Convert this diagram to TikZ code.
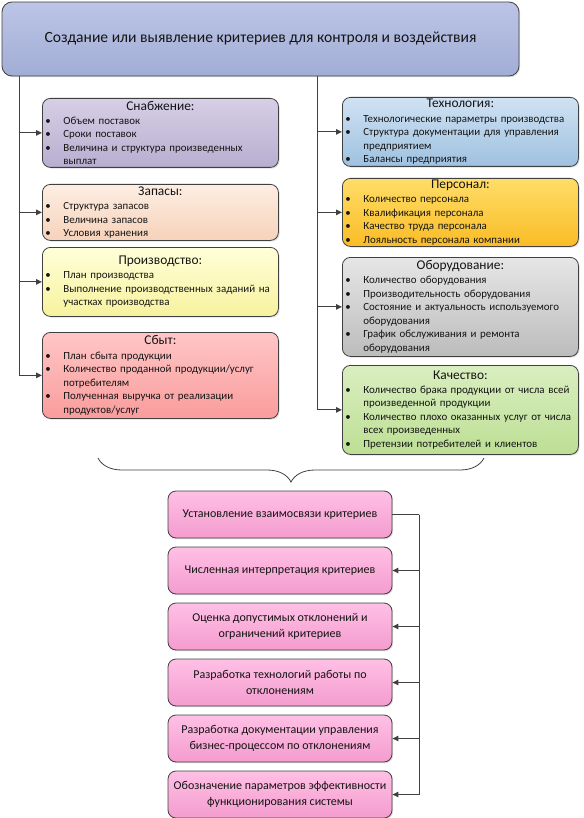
\documentclass[tikz,border=0pt]{standalone}
\usepackage{fontspec}
\setmainfont{Carlito}
\usepackage{tikz}
\usetikzlibrary{positioning, arrows.meta, shadows, decorations.pathreplacing}
\definecolor{critline}{RGB}{64, 64, 64}
\definecolor{crittext}{RGB}{20, 20, 20}
\definecolor{headtop}{RGB}{188, 197, 230}
\definecolor{headbot}{RGB}{162, 173, 214}
\definecolor{liltop}{RGB}{214, 207, 230}
\definecolor{lilbot}{RGB}{184, 174, 208}
\definecolor{peachtop}{RGB}{253, 238, 226}
\definecolor{peachbot}{RGB}{246, 210, 186}
\definecolor{yeltop}{RGB}{255, 255, 216}
\definecolor{yelbot}{RGB}{247, 242, 158}
\definecolor{redtop}{RGB}{255, 198, 198}
\definecolor{redbot}{RGB}{250, 156, 156}
\definecolor{bluetop}{RGB}{208, 226, 243}
\definecolor{bluebot}{RGB}{158, 193, 224}
\definecolor{goldtop}{RGB}{255, 221, 104}
\definecolor{goldbot}{RGB}{250, 188, 38}
\definecolor{greytop}{RGB}{230, 230, 230}
\definecolor{greybot}{RGB}{188, 188, 188}
\definecolor{greentop}{RGB}{218, 238, 192}
\definecolor{greenbot}{RGB}{188, 223, 148}
\definecolor{pinktop}{RGB}{255, 192, 229}
\definecolor{pinkbot}{RGB}{244, 156, 207}

\newcommand{\crithead}[1]{{\centering\fontsize{13.4}{15}\selectfont #1\par}\vspace{0.8pt}}
\newcommand{\crititem}[1]{\hangindent=19pt\hangafter=1\rightskip=0pt minus 12pt\noindent\makebox[19pt][l]{\hspace{1pt}\textbullet}#1\par}

\begin{document}
\begin{tikzpicture}[x=1pt, y=-1pt,
    grad/.style 2 args={top color=#1, bottom color=#2},
    shade box/.style={draw=critline, line width=0.8pt, text=crittext,
      drop shadow={shadow xshift=1.2pt, shadow yshift=-1.2pt, opacity=0.25}},
    headbox/.style={shade box, grad={headtop}{headbot}, rounded corners=10pt,
      minimum width=517pt, minimum height=74pt, font=\fontsize{15.6}{18}\selectfont},
    critbox/.style={shade box, rounded corners=8pt, anchor=north west,
      text width=232pt, inner xsep=2pt, inner ysep=1pt,
      font=\fontsize{10.9}{13.5}\selectfont},
    stepbox/.style={shade box, grad={pinktop}{pinkbot}, rounded corners=8pt,
      minimum width=224pt, minimum height=47pt, align=center,
      font=\fontsize{12}{16.5}\selectfont},
    conn/.style={draw=critline, line width=1.1pt, -{Triangle[length=6pt, width=5.5pt]}},
    bus/.style={draw=critline, line width=1.1pt}]
  \useasboundingbox (0,0) rectangle (583,818);

  % Head
  \node[headbox] (head) at (260.5,39) {Создание или выявление критериев для контроля и воздействия};

  % Left column
  \node[critbox, grad={liltop}{lilbot}, minimum height=69pt] (snab) at (42,98) {%
    \crithead{Снабжение:}
    \crititem{Объем поставок}
    \crititem{Сроки поставок}
    \crititem{Величина и структура произведенных\newline выплат}};
  \node[critbox, grad={peachtop}{peachbot}, minimum height=56pt] (zapas) at (42,184) {%
    \crithead{Запасы:}
    \crititem{Структура запасов}
    \crititem{Величина запасов}
    \crititem{Условия хранения}};
  \node[critbox, grad={yeltop}{yelbot}, minimum height=69pt] (proizv) at (42,247) {%
    \crithead{Производство:}
    \crititem{План производства}
    \crititem{Выполнение производственных заданий на\newline участках производства}};
  \node[critbox, grad={redtop}{redbot}, minimum height=86pt] (sbyt) at (42,332) {%
    \crithead{Сбыт:}
    \crititem{План сбыта продукции}
    \crititem{Количество проданной продукции/услуг\newline потребителям}
    \crititem{Полученная выручка от реализации\newline продуктов/услуг}};

  % Right column
  \node[critbox, grad={bluetop}{bluebot}, minimum height=69pt] (tech) at (342,97) {%
    \crithead{Технология:}
    \crititem{Технологические параметры производства}
    \crititem{Структура документации для управления\newline предприятием}
    \crititem{Балансы предприятия}};
  \node[critbox, grad={goldtop}{goldbot}, minimum height=68pt] (pers) at (342,178) {%
    \crithead{Персонал:}
    \crititem{Количество персонала}
    \crititem{Квалификация персонала}
    \crititem{Качество труда персонала}
    \crititem{Лояльность персонала компании}};
  \node[critbox, grad={greytop}{greybot}, minimum height=99pt] (obor) at (342,257) {%
    \crithead{Оборудование:}
    \crititem{Количество оборудования}
    \crititem{Производительность оборудования}
    \crititem{Состояние и актуальность используемого\newline оборудования}
    \crititem{График обслуживания и ремонта\newline оборудования}};
  \node[critbox, grad={greentop}{greenbot}, minimum height=89pt] (kach) at (342,365) {%
    \crithead{Качество:}
    \crititem{Количество брака продукции от числа всей\newline произведенной продукции}
    \crititem{Количество плохо оказанных услуг от числа\newline всех произведенных}
    \crititem{Претензии потребителей и клиентов}};

  % Trunks
  \coordinate (lroot) at ([xshift=18pt]head.south west);
  \coordinate (rroot) at ([xshift=316pt]head.south west);
  \foreach \b in {snab, zapas, proizv, sbyt}
    \draw[conn] (lroot) |- (\b.west);
  \foreach \b in {tech, pers, obor, kach}
    \draw[conn] (rroot) |- (\b.west);

  % Brace
  \coordinate (bl) at (98,458);
  \coordinate (br) at (484,458);
  \draw[critline, line width=0.8pt, decorate, decoration={brace, mirror, amplitude=24pt}] (bl) -- (br);

  % Steps
  \node[stepbox] (step1) at (280,514.5) {Установление взаимосвязи критериев};
  \node[stepbox, below=8.2pt of step1] (step2) {Численная интерпретация критериев};
  \node[stepbox, below=8.2pt of step2] (step3) {Оценка допустимых отклонений и\\ограничений критериев};
  \node[stepbox, below=8.2pt of step3] (step4) {Разработка технологий работы по\\отклонениям};
  \node[stepbox, below=8.2pt of step4] (step5) {Разработка документации управления\\бизнес-процессом по отклонениям};
  \node[stepbox, below=8.2pt of step5] (step6) {Обозначение параметров эффективности\\функционирования системы};

  \coordinate (sbus) at ([xshift=27pt]step1.east);
  \draw[bus] (step1.east) -- (sbus);
  \foreach \s in {2,...,6}
    \draw[conn] (sbus) |- (step\s.east);
\end{tikzpicture}
\end{document}
